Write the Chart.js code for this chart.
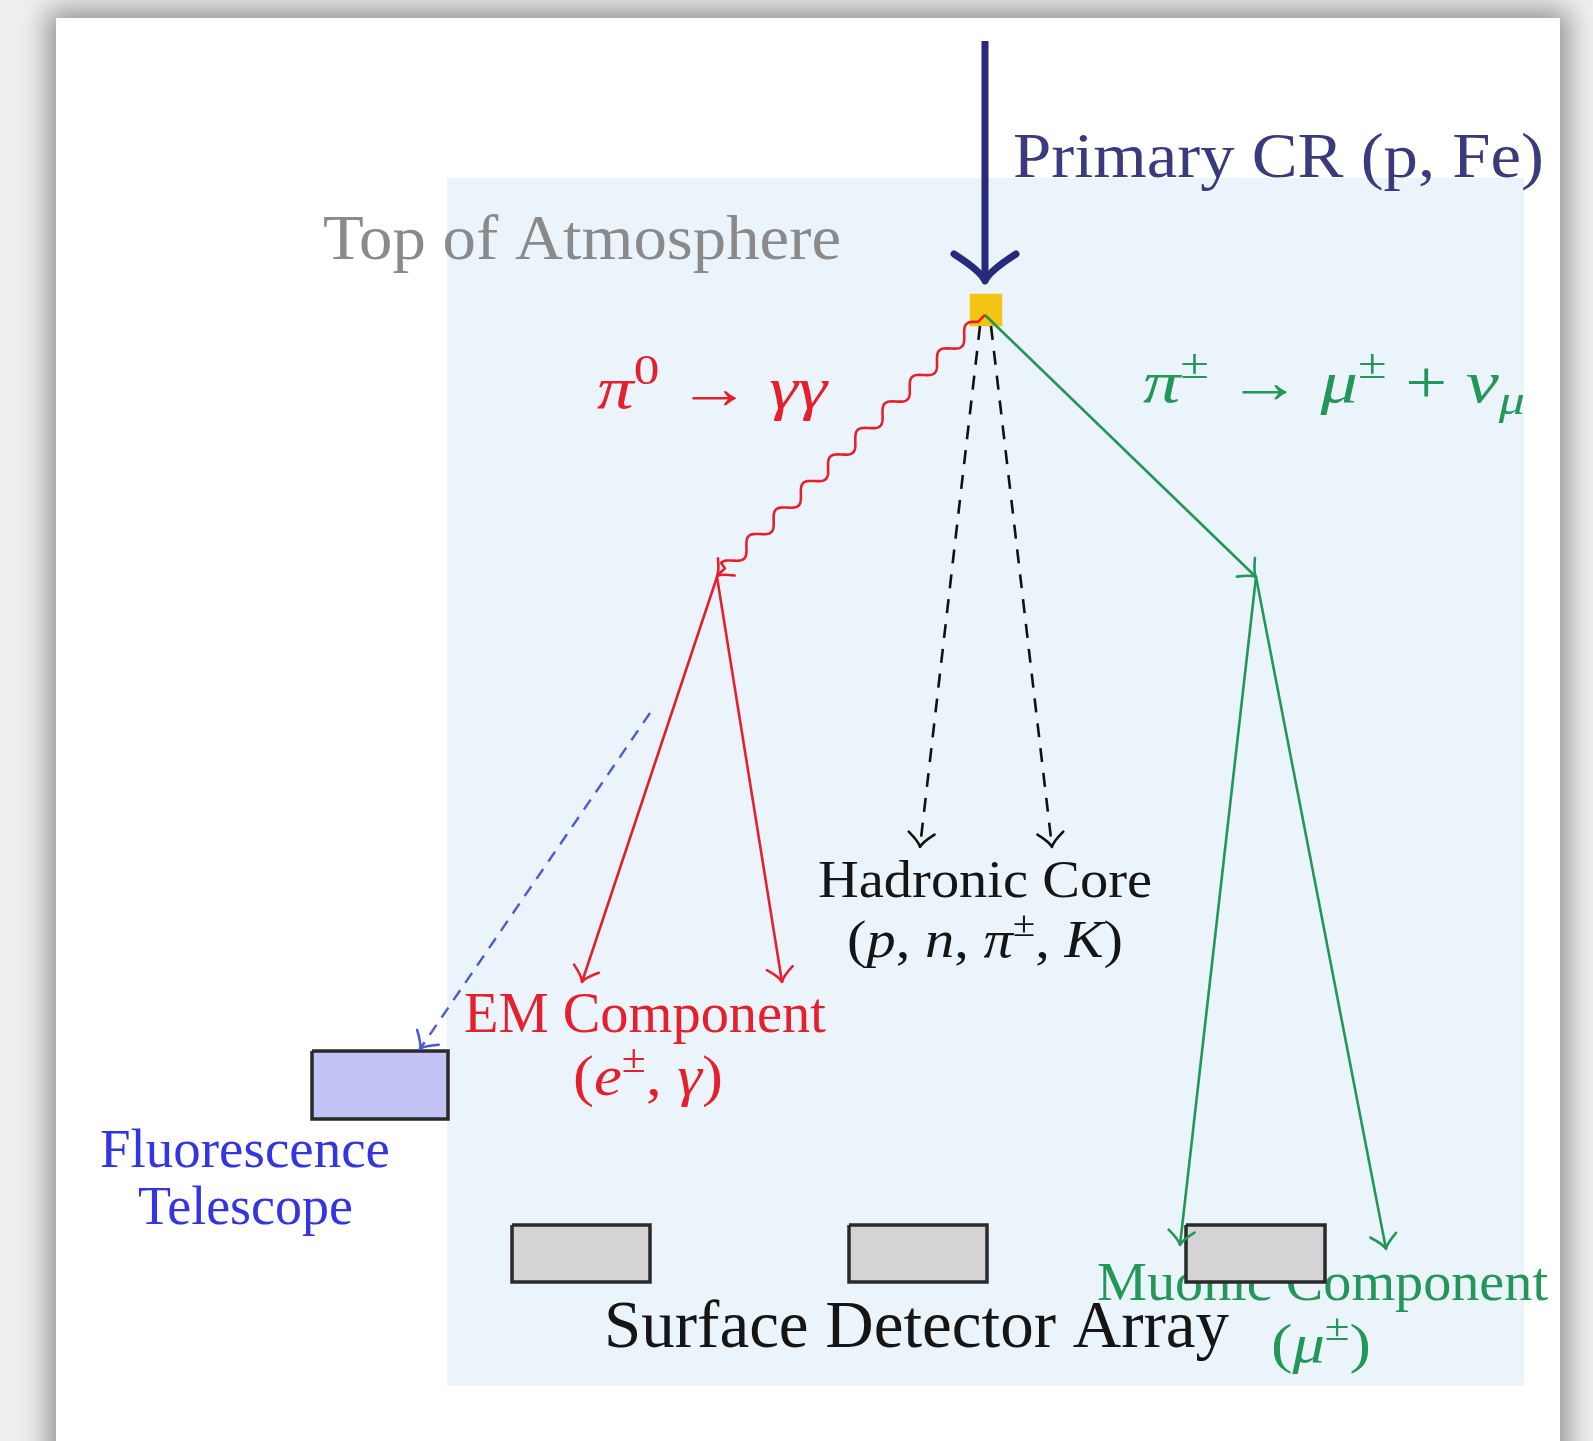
<!DOCTYPE html>
<html><head><meta charset="utf-8">
<script src="https://cdn.jsdelivr.net/npm/chart.js@4.4.1/dist/chart.umd.min.js"></script>
<style>
html,body{margin:0;padding:0;background:#efefef;overflow:hidden;width:1593px;height:1441px;}
#card{position:absolute;left:56px;top:18px;width:1504px;height:1480px;background:#fff;box-shadow:0 0 26px 8px rgba(0,0,0,0.40);}
#c{position:absolute;left:0;top:0;}
</style></head><body>
<div id="card"></div>
<canvas id="c" width="1593" height="1441"></canvas>
<script>
// ---- diagram data (pixel-space coordinates of the drawing, y downward) ----
const atmosphere = [447, 178, 1524, 1386];            // x1, y1, x2, y2
const vertex = [986, 310];
const primaryRay = [[985, 41], [985, 281]];
const photonLine = [[985, 315], [717, 576]];
const pionLine = [[985, 315], [1256, 577]];
const hadronLeft = [[980, 326], [920, 847]];
const hadronRight = [[991, 326], [1052, 847]];
const emLeft = [[717, 577], [582, 982]];
const emRight = [[717, 577], [782, 982]];
const fluorLight = [[650, 713], [420, 1049]];
const muonLeft = [[1256, 577], [1180, 1245]];
const muonRight = [[1256, 577], [1386, 1249]];
const telescopeBox = [312, 1051, 448, 1119];
const detectorBoxes = [[512, 1225, 650, 1282], [849, 1225, 987, 1282], [1186, 1225, 1325, 1282]];

const labelTexts = [
  [{t: 'Primary CR (p, Fe)'}],
  [{t: 'Top of Atmosphere'}],
  [{t: 'π', it: 1}, {t: '0', sup: 1}, {t: ' → '}, {t: 'γγ', it: 1}],
  [{t: 'π', it: 1}, {t: '±', sup: 1}, {t: ' → '}, {t: 'μ', it: 1}, {t: '±', sup: 1}, {t: ' + '}, {t: 'ν', it: 1}, {t: 'μ', it: 1, sub: 1}],
  [{t: 'Hadronic Core'}],
  [{t: '('}, {t: 'p', it: 1}, {t: ', '}, {t: 'n', it: 1}, {t: ', '}, {t: 'π', it: 1}, {t: '±', sup: 1}, {t: ', '}, {t: 'K', it: 1}, {t: ')'}],
  [{t: 'EM Component'}],
  [{t: '('}, {t: 'e', it: 1}, {t: '±', sup: 1}, {t: ', '}, {t: 'γ', it: 1}, {t: ')'}],
  [{t: 'Fluorescence'}],
  [{t: 'Telescope'}],
  [{t: 'Surface Detector Array'}],
  [{t: 'Muonic Component'}],
  [{t: '('}, {t: 'μ', it: 1}, {t: '±', sup: 1}, {t: ')'}]
];
// [left, right, baseline] in drawing coordinates
const labelSpans = [
  [1013, 1544, 177], [323, 841, 259], [597, 827, 408], [1143, 1525, 402],
  [818, 1152, 897], [847, 1123, 957], [464, 826, 1032], [573, 723, 1095],
  [100, 390, 1167], [138, 353, 1224], [604, 1229, 1347], [1097, 1548, 1300], [1271, 1371, 1362]
];

const RED = '#e5202e', GREEN = '#23965a', NAVY = '#2a2a7c', BLUE = '#3434e0';
const labelStyles = [
  [64, '#3a3a7c'], [64, '#8a8a8a'], [60, RED], [60, GREEN],
  [52, '#151515'], [52, '#151515'], [57, RED], [57, RED],
  [54, BLUE], [54, BLUE], [68, '#151515'], [55, GREEN], [55, GREEN]
];

const P = a => a.map(p => ({x: p[0], y: p[1]}));
const rectPts = r => P([[r[0], r[1]], [r[2], r[1]], [r[2], r[3]], [r[0], r[3]], [r[0], r[1]]]);
function seg(pts, color, width, dash, order, arrow) {
  return {data: P(pts), borderColor: color, borderWidth: width, borderDash: dash || [], pointRadius: 0,
    fill: false, tension: 0, order: order, arrow: arrow, borderCapStyle: 'butt'};
}
function box(r, fillc, order) {
  return {data: rectPts(r), borderColor: '#2a2a2a', borderWidth: 3.5, backgroundColor: fillc, fill: 'shape',
    pointRadius: 0, tension: 0, order: order, borderJoinStyle: 'miter'};
}

const datasets = [
  seg(primaryRay, NAVY, 7, null, 1, 'big'),
  {data: P(photonLine), showLine: false, pointRadius: 0, order: 1, wave: true, waveColor: RED},
  seg(pionLine, GREEN, 2.6, null, 1, 'small'),
  seg(hadronLeft, '#111', 2.6, [14, 11], 1, 'small'),
  seg(hadronRight, '#111', 2.6, [14, 11], 1, 'small'),
  seg(emLeft, RED, 2.6, null, 1, 'small'),
  seg(emRight, RED, 2.6, null, 1, 'small'),
  seg(fluorLight, '#4a5ad8', 2.4, [12, 9], 1, 'small'),
  seg(muonRight, GREEN, 2.6, null, 1, 'small'),
  box(telescopeBox, '#c3c3f6', 2),
  box(detectorBoxes[0], '#d5d3d6', 2),
  box(detectorBoxes[1], '#d5d3d6', 2),
  box(detectorBoxes[2], '#d5d3d6', 2),
  seg(muonLeft, GREEN, 2.6, null, 3, 'small'),
  {data: P([vertex]), pointStyle: 'rect', pointRadius: 23, pointBackgroundColor: '#f4c414', pointBorderWidth: 0, showLine: false, order: 5}
];

function drawRich(ctx, runs, left, right, base, size, color) {
  const fam = '"Liberation Serif", "DejaVu Serif", serif';
  const fontOf = r => (r.it ? 'italic ' : '') + ((r.sup || r.sub) ? size * 0.7 : size) + 'px ' + fam;
  let total = 0;
  const ws = runs.map(r => { ctx.font = fontOf(r); const w = ctx.measureText(r.t).width; total += w; return w; });
  const sx = (right - left) / total;
  ctx.save();
  ctx.translate(left, base);
  ctx.scale(sx, 1);
  ctx.fillStyle = color;
  ctx.textBaseline = 'alphabetic';
  let cx = 0;
  runs.forEach((r, i) => {
    ctx.font = fontOf(r);
    const dy = r.sup ? -size * 0.4 : (r.sub ? size * 0.2 : 0);
    ctx.fillText(r.t, cx, dy);
    cx += ws[i];
  });
  ctx.restore();
}

function arrowHead(ctx, tip, ang, L, W, lw, color) {
  const dx = Math.cos(ang), dy = Math.sin(ang), nx = -dy, ny = dx;
  const w1 = [tip.x - L * dx + W * nx, tip.y - L * dy + W * ny];
  const w2 = [tip.x - L * dx - W * nx, tip.y - L * dy - W * ny];
  const c1 = [tip.x - 0.35 * L * dx + 0.12 * W * nx, tip.y - 0.35 * L * dy + 0.12 * W * ny];
  const c2 = [tip.x - 0.35 * L * dx - 0.12 * W * nx, tip.y - 0.35 * L * dy - 0.12 * W * ny];
  ctx.save();
  ctx.strokeStyle = color; ctx.lineWidth = lw; ctx.lineCap = 'round'; ctx.lineJoin = 'round'; ctx.setLineDash([]);
  ctx.beginPath();
  ctx.moveTo(w1[0], w1[1]);
  ctx.quadraticCurveTo(c1[0], c1[1], tip.x, tip.y);
  ctx.quadraticCurveTo(c2[0], c2[1], w2[0], w2[1]);
  ctx.stroke();
  ctx.restore();
}

const diagramPlugin = {
  id: 'diagram',
  beforeDatasetsDraw(chart) {
    const ctx = chart.ctx, xs = chart.scales.x, ys = chart.scales.y;
    const x1 = xs.getPixelForValue(atmosphere[0]), x2 = xs.getPixelForValue(atmosphere[2]);
    const y1 = ys.getPixelForValue(atmosphere[1]), y2 = ys.getPixelForValue(atmosphere[3]);
    ctx.save();
    ctx.fillStyle = '#ecf4fb';
    ctx.fillRect(x1, y1, x2 - x1, y2 - y1);
    ctx.restore();
    labelTexts.forEach((runs, i) => {
      const s = labelSpans[i];
      drawRich(ctx, runs, xs.getPixelForValue(s[0]), xs.getPixelForValue(s[1]), ys.getPixelForValue(s[2]),
        labelStyles[i][0], labelStyles[i][1]);
    });
  },
  afterDatasetsDraw(chart) {
    const ctx = chart.ctx;
    chart.data.datasets.forEach((ds, i) => {
      const meta = chart.getDatasetMeta(i);
      const pts = meta.data;
      if (ds.wave) {
        const a = pts[0], b = pts[pts.length - 1];
        const len = Math.hypot(b.x - a.x, b.y - a.y);
        const dx = (b.x - a.x) / len, dy = (b.y - a.y) / len, nx = -dy, ny = dx;
        const lam = 38, amp = 6.5, lead = 10, tail = 12;
        ctx.save();
        ctx.strokeStyle = ds.waveColor; ctx.lineWidth = 2.6; ctx.lineJoin = 'round';
        ctx.beginPath();
        ctx.moveTo(a.x, a.y);
        for (let s = 0; s <= len; s += 1) {
          let o = 0;
          if (s > lead && s < len - tail) o = amp * Math.sin(2 * Math.PI * (s - lead) / lam);
          ctx.lineTo(a.x + dx * s + nx * o, a.y + dy * s + ny * o);
        }
        ctx.stroke();
        ctx.restore();
        arrowHead(ctx, b, Math.atan2(dy, dx), 13, 12, 2.6, ds.waveColor);
      }
      if (ds.arrow) {
        const a = pts[pts.length - 2], b = pts[pts.length - 1];
        const ang = Math.atan2(b.y - a.y, b.x - a.x);
        if (ds.arrow === 'big') arrowHead(ctx, b, ang, 27, 31, 7, ds.borderColor);
        else arrowHead(ctx, b, ang, 14, 13, 2.6, ds.borderColor);
      }
    });
  }
};

new Chart(document.getElementById('c'), {
  type: 'line',
  data: {datasets: datasets},
  options: {
    responsive: false,
    animation: false,
    events: [],
    layout: {padding: 0, autoPadding: false},
    scales: {
      x: {type: 'linear', min: 0, max: 1593, display: false},
      y: {type: 'linear', min: 0, max: 1441, reverse: true, display: false}
    },
    plugins: {legend: {display: false}, tooltip: {enabled: false}}
  },
  plugins: [diagramPlugin]
});
</script></body></html>
